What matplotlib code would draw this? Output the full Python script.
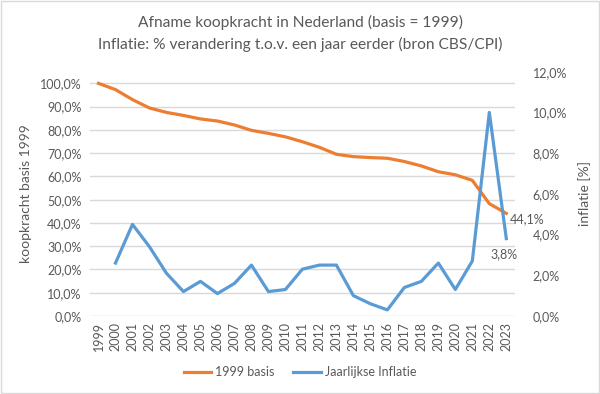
import numpy as np
import matplotlib.pyplot as plt
from matplotlib.patches import Rectangle
from matplotlib.ticker import FuncFormatter

plt.rcParams['font.family'] = ['Lato', 'DejaVu Sans']

years = [str(y) for y in range(1999, 2024)]

# koopkracht t.o.v. 1999 (%)
koopkracht = [100.0, 97.3, 93.0, 89.4, 87.5, 86.2, 84.7, 83.8, 82.1, 79.8,
              78.5, 77.0, 74.9, 72.5, 69.5, 68.5, 68.1, 67.8, 66.4, 64.5,
              62.0, 60.7, 58.3, 48.3, 44.1]

# jaarlijkse inflatie (%), geen waarde voor 1999
inflatie = [np.nan, 2.6, 4.5, 3.4, 2.1, 1.2, 1.7, 1.1, 1.6, 2.5,
            1.2, 1.3, 2.3, 2.5, 2.5, 1.0, 0.6, 0.3, 1.4, 1.7,
            2.6, 1.3, 2.7, 10.0, 3.8]

orange = '#ED7D31'
blue = '#5B9BD5'
grey = '#595959'

def pct(v, pos):
    return f'{v:.1f}%'.replace('.', ',')

fig = plt.figure(figsize=(6, 3.94), dpi=100)
fig.patches.append(Rectangle((0.002, 0.003), 0.996, 0.994, transform=fig.transFigure,
                             fill=False, edgecolor='#D9D9D9', linewidth=1))
ax = fig.add_axes([0.15, 0.198, 0.708, 0.62])
ax2 = ax.twinx()

x = np.arange(len(years))
l1, = ax.plot(x, koopkracht, color=orange, lw=2.3, solid_joinstyle='round')
l2, = ax2.plot(x, inflatie, color=blue, lw=2.3, solid_joinstyle='round')

ax.set_xlim(-0.5, len(years) - 0.5)
ax.set_ylim(0, 105)
ax.set_yticks(np.arange(0, 101, 10))
ax.yaxis.set_major_formatter(FuncFormatter(pct))
ax2.set_ylim(0, 12)
ax2.set_yticks(np.arange(0, 13, 2))
ax2.yaxis.set_major_formatter(FuncFormatter(pct))

ax.set_xticks(x)
ax.set_xticklabels(years, rotation=90)
ax.grid(axis='y', color='#D9D9D9', lw=1)
ax.set_axisbelow(True)
ax.set_zorder(ax2.get_zorder() - 1)
ax.patch.set_visible(False)

for a in (ax, ax2):
    for s in a.spines.values():
        s.set_visible(False)
    a.tick_params(length=0, colors=grey, labelsize=9)
ax.tick_params(axis='x', pad=4)
ax.tick_params(axis='y', pad=6)
ax2.tick_params(axis='y', pad=13)

ax.set_ylabel('koopkracht basis 1999', color=grey, fontsize=10, labelpad=6)
ax2.set_ylabel('inflatie [%]', color=grey, fontsize=10, labelpad=8)

ax.annotate(pct(koopkracht[-1], None), (x[-1], koopkracht[-1]), xytext=(21, -6),
            textcoords='offset pixels', ha='center', va='center', color=grey, fontsize=9)
ax2.annotate(pct(inflatie[-1], None), (x[-1], inflatie[-1]), xytext=(-2, -16),
             textcoords='offset pixels', ha='center', va='center', color=grey, fontsize=9)

fig.text(0.5, 0.944, 'Afname koopkracht in Nederland (basis = 1999)',
         ha='center', va='center', color=grey, fontsize=11.2)
fig.text(0.5, 0.888, 'Inflatie: % verandering t.o.v. een jaar eerder (bron CBS/CPI)',
         ha='center', va='center', color=grey, fontsize=11.2)

fig.legend([l1, l2], ['1999 basis', 'Jaarlijkse Inflatie'], loc='center',
           bbox_to_anchor=(0.5, 0.055), ncol=2, frameon=False, fontsize=9,
           labelcolor=grey, handlelength=2.2, columnspacing=1.5, handletextpad=0.3)

fig.savefig('out.png', dpi=100)
